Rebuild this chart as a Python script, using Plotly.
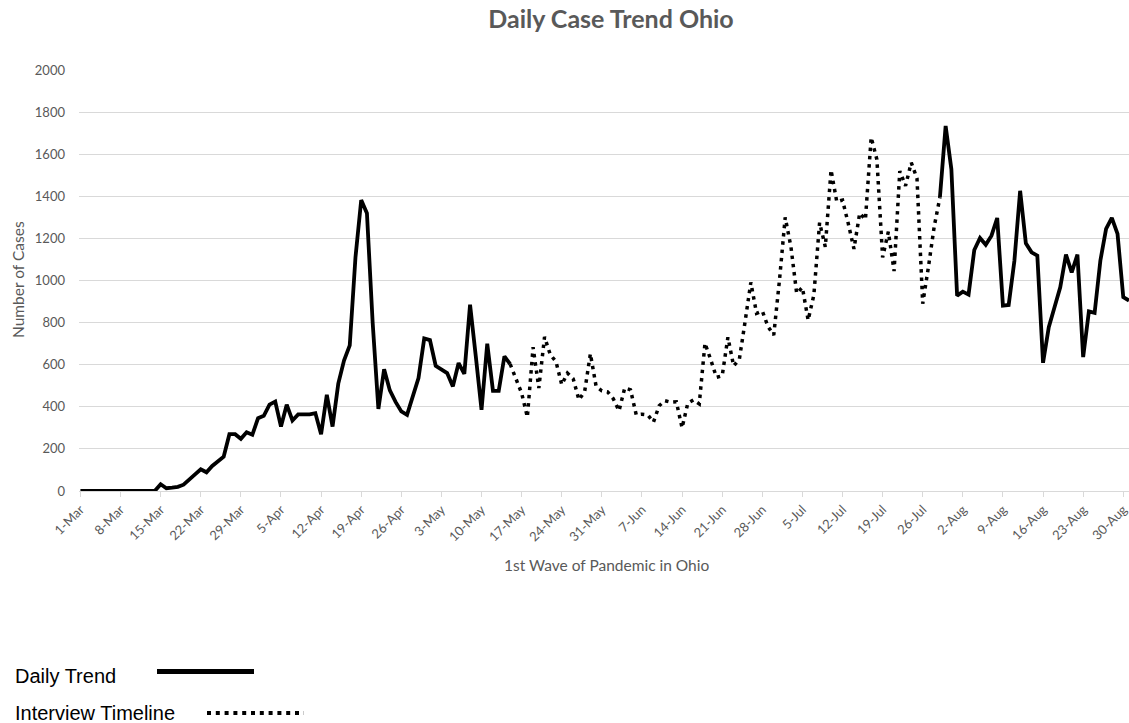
import pandas as pd
import plotly.graph_objects as go

# ---- data -------------------------------------------------------------
dates = pd.date_range("2020-03-01", "2020-08-31", freq="D")
cases = [
    0, 0, 0, 0, 0, 0, 0, 0, 1, 3, 0, 2, 1, 1,            # 1-14 Mar
    32, 13, 16, 20, 30, 52, 79, 103, 89, 119, 140, 163,   # 15-26 Mar
    270, 270, 248, 279, 267,                              # 27-31 Mar
    346, 357, 410, 425, 306, 410, 335, 364, 364, 364,     # 1-10 Apr
    370, 270, 457, 306, 510, 620, 692, 1110, 1382, 1320,  # 11-20 Apr
    800, 390, 578, 478, 423, 378, 362, 449, 537, 725,     # 21-30 Apr
    717, 595, 579, 560, 497, 608, 556, 885, 640, 386,     # 1-10 May
    700, 476, 476, 640, 603, 532, 465, 351, 683, 489,     # 11-20 May
    732, 648, 614, 505, 560, 533, 433, 473, 652, 497,     # 21-30 May
    476,                                                  # 31 May
    471, 438, 381, 490, 481, 362, 365, 362, 327, 405,     # 1-10 Jun
    429, 422, 424, 300, 417, 433, 414, 702, 624, 540,     # 11-20 Jun
    547, 730, 594, 626, 805, 991, 844, 855, 781, 741,     # 21-30 Jun
    1002, 1300, 1160, 939, 967, 812, 931, 1275, 1160, 1525,   # 1-10 Jul
    1374, 1382, 1271, 1150, 1320, 1290, 1680, 1575, 1110, 1232,  # 11-20 Jul
    1045, 1520, 1450, 1560, 1485, 890, 1065, 1255, 1395, 1734,   # 21-30 Jul
    1529,                                                 # 31 Jul
    928, 947, 933, 1145, 1202, 1170, 1213, 1297, 881, 884,   # 1-10 Aug
    1094, 1426, 1177, 1134, 1118, 609, 778, 873, 968, 1123,  # 11-20 Aug
    1039, 1123, 636, 853, 846, 1094, 1245, 1297, 1221, 921,  # 21-30 Aug
    905,                                                  # 31 Aug
]
interview_start = "2020-05-15"
interview_end = "2020-07-29"
tick_dates = pd.date_range("2020-03-01", "2020-08-30", freq="7D")
y_ticks = list(range(0, 2001, 200))

series_names = ["Daily Trend", "Interview Timeline"]
title_text = "Daily Case Trend Ohio"
x_title = "1st Wave of Pandemic in Ohio"
y_title = "Number of Cases"

# ---- figure -----------------------------------------------------------
s = pd.Series(cases, index=dates)
seg1 = s[:interview_start]
seg2 = s[interview_start:interview_end]
seg3 = s[interview_end:]

W, H = 1129, 723
L, R, T, B = 79, 0, 70, 232
pw, ph = W - L - R, H - T - B
GRAY = "#595959"
FONT = "Lato"


def px_x(x):
    return (x - L) / pw


def px_y(y):
    return (H - B - y) / ph


fig = go.Figure()
fig.add_trace(go.Scatter(x=seg1.index, y=seg1.values, mode="lines",
                         line=dict(color="black", width=3.8),
                         name=series_names[0], showlegend=False))
fig.add_trace(go.Scatter(x=seg2.index, y=seg2.values, mode="lines",
                         line=dict(color="black", width=3.5, dash="3.5px,4.8px"),
                         name=series_names[1], showlegend=False))
fig.add_trace(go.Scatter(x=seg3.index, y=seg3.values, mode="lines",
                         line=dict(color="black", width=3.8),
                         name=series_names[0], showlegend=False))

fig.update_layout(
    width=W, height=H,
    margin=dict(l=L, r=R, t=T, b=B),
    paper_bgcolor="white", plot_bgcolor="white",
    font=dict(family=FONT, color=GRAY, size=13),
    title=dict(text="<b>%s</b>" % title_text, x=611 / W, xref="container",
               xanchor="center", y=1 - 19 / H, yref="container", yanchor="middle",
               font=dict(family=FONT, size=25, color=GRAY)),
    showlegend=False,
)
fig.update_xaxes(
    type="date",
    range=["2020-02-29 18:00", "2020-08-31 00:00"],
    tickvals=tick_dates, tickformat="%-d-%b", tickangle=-45,
    ticklabeloverflow="allow",
    showgrid=False, showline=True, linecolor="#d9d9d9", linewidth=1,
    ticks="outside", ticklen=5, tickcolor="#d9d9d9",
    tickfont=dict(family=FONT, size=13, color=GRAY),
    zeroline=False,
)
fig.update_yaxes(
    range=[0, 2000], tickvals=y_ticks,
    showgrid=True, gridcolor="#d9d9d9", gridwidth=1,
    zeroline=False, showline=False,
    tickfont=dict(family=FONT, size=13, color=GRAY),
    ticklabelstandoff=13,
)

# axis titles
fig.add_annotation(text=x_title, xref="paper", yref="paper",
                   x=px_x(606), y=px_y(565), xanchor="center", yanchor="middle",
                   showarrow=False, font=dict(family=FONT, size=15.5, color=GRAY))
fig.add_annotation(text=y_title, xref="paper", yref="paper", textangle=-90,
                   x=px_x(18), y=px_y(280), xanchor="center", yanchor="middle",
                   showarrow=False, font=dict(family=FONT, size=15.5, color=GRAY))

# custom legend below the chart
fig.add_annotation(text=series_names[0], xref="paper", yref="paper",
                   x=px_x(13), y=px_y(676), xanchor="left", yanchor="middle",
                   showarrow=False,
                   font=dict(family="Liberation Sans", size=20, color="black"))
fig.add_annotation(text=series_names[1], xref="paper", yref="paper",
                   x=px_x(13), y=px_y(713), xanchor="left", yanchor="middle",
                   showarrow=False,
                   font=dict(family="Liberation Sans", size=20, color="black"))
fig.add_shape(type="line", xref="paper", yref="paper",
              x0=px_x(157), x1=px_x(254), y0=px_y(671.5), y1=px_y(671.5),
              line=dict(color="black", width=5))
fig.add_shape(type="line", xref="paper", yref="paper",
              x0=px_x(207), x1=px_x(304), y0=px_y(713), y1=px_y(713),
              line=dict(color="black", width=4, dash="4px,4.8px"))

fig.write_html("out.html")
